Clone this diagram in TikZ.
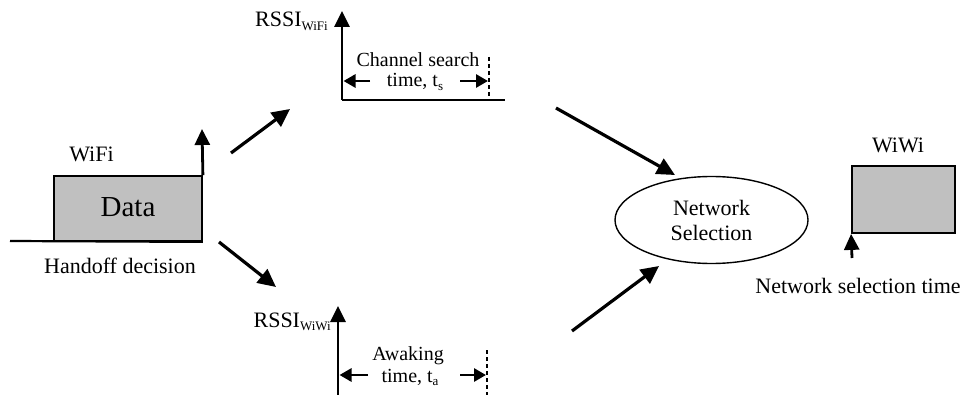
\documentclass[tikz,border=0pt]{standalone}
\usepackage{fontspec}
\setmainfont{Liberation Serif}
\usetikzlibrary{arrows.meta,shapes.geometric}
\definecolor{boxgray}{HTML}{C0C0C0}
\newcommand{\mysub}[1]{\raisebox{-3.5pt}{\fontsize{13}{13}\selectfont #1}}
\begin{document}
\begin{tikzpicture}[x=1pt,y=-1pt,
 lbl/.style={font=\fontsize{22}{25}\selectfont, inner sep=0pt, anchor=base},
 smalllbl/.style={font=\fontsize{20}{22}\selectfont, inner sep=0pt, anchor=base},
 bigarrow/.style={line width=3.2pt, -{Triangle[length=18pt,width=17pt]}},
 axisarrow/.style={line width=2.8pt, -{Triangle[length=16pt,width=15pt]}},
 tarrow/.style={line width=2.8pt, -{Triangle[length=12pt,width=13pt]}},
 plainline/.style={line width=2.2pt},
 dsh/.style={line width=2.2pt, dash pattern=on 4pt off 3pt},
 databox/.style={draw, line width=1.8pt, fill=boxgray, inner sep=0pt}
]
\useasboundingbox (0,0) rectangle (965,395);

% ---- left: WiFi data block
\node[databox, minimum width=148pt, minimum height=65pt] (data) at (128,208.5) {};
\node[font=\fontsize{29}{31}\selectfont, inner sep=0pt, anchor=base] (datatxt) at (128,216) {Data};
\node[lbl] (wifi) at (91.5,162) {WiFi};
\node[lbl] (handoff) at (120,273) {Handoff decision};
\coordinate (bl) at (10,241);
\coordinate (wtop) at (202,129);
\draw[plainline] (bl) -- (data.south east);
\draw[axisarrow] (data.north east) -- (wtop);

% ---- diagonal arrows
\coordinate (a1s) at (231,153); \coordinate (a1e) at (290,109);
\coordinate (a2s) at (219,242); \coordinate (a2e) at (276,287);
\coordinate (a3s) at (556,108); \coordinate (a3e) at (675,175);
\coordinate (a4s) at (572,331); \coordinate (a4e) at (659,266);
\draw[bigarrow] (a1s) -- (a1e);
\draw[bigarrow] (a2s) -- (a2e);
\draw[bigarrow] (a3s) -- (a3e);
\draw[bigarrow] (a4s) -- (a4e);

% ---- RSSI WiFi
\coordinate (o1) at (342,100);
\coordinate (y1) at (342,11);
\coordinate (x1) at (505,100);
\draw[axisarrow] (o1) -- (y1);
\draw[plainline] (o1) -- (x1);
\node[lbl, anchor=base east] (rssi1) at (328,27) {RSSI\mysub{WiFi}};
\coordinate (d1a) at (489,57); \coordinate (d1b) at (489,100);
\draw[dsh] (d1a) -- (d1b);
\node[smalllbl] (cs1) at (418,67) {Channel search};
\node[smalllbl] (cs2) at (415,87) {time, t\mysub{s}};
\coordinate (l1s) at (370,81); \coordinate (l1e) at (343.5,81);
\coordinate (r1s) at (460,81); \coordinate (r1e) at (488,81);
\draw[tarrow] (l1s) -- (l1e);
\draw[tarrow] (r1s) -- (r1e);

% ---- RSSI WiWi
\coordinate (o2) at (338,400);
\coordinate (y2) at (338,306);
\draw[axisarrow] (o2) -- (y2);
\node[lbl, anchor=base east] (rssi2) at (331,327) {RSSI\mysub{WiWi}};
\coordinate (d2a) at (487,350); \coordinate (d2b) at (487,400);
\draw[dsh] (d2a) -- (d2b);
\node[smalllbl] (aw1) at (408,360) {Awaking};
\node[smalllbl] (aw2) at (410,382) {time, t\mysub{a}};
\coordinate (l2s) at (368,375); \coordinate (l2e) at (339.5,375);
\coordinate (r2s) at (460,375); \coordinate (r2e) at (486,375);
\draw[tarrow] (l2s) -- (l2e);
\draw[tarrow] (r2s) -- (r2e);

% ---- network selection
\node[ellipse, draw, line width=1.4pt, minimum width=193pt, minimum height=87pt,
      inner sep=0pt, align=center, font=\fontsize{22}{25}\selectfont] (ns) at (711.5,220)
      {Network\\Selection};

% ---- WiWi block
\node[databox, minimum width=103pt, minimum height=67pt] (wiwibox) at (903.5,199.5) {};
\node[lbl] (wiwi) at (898,153) {WiWi};
\coordinate (nst) at (852,258);
\draw[axisarrow] (nst) -- (wiwibox.south west);
\node[lbl] (nstxt) at (858,293) {Network selection time};
\end{tikzpicture}
\end{document}
